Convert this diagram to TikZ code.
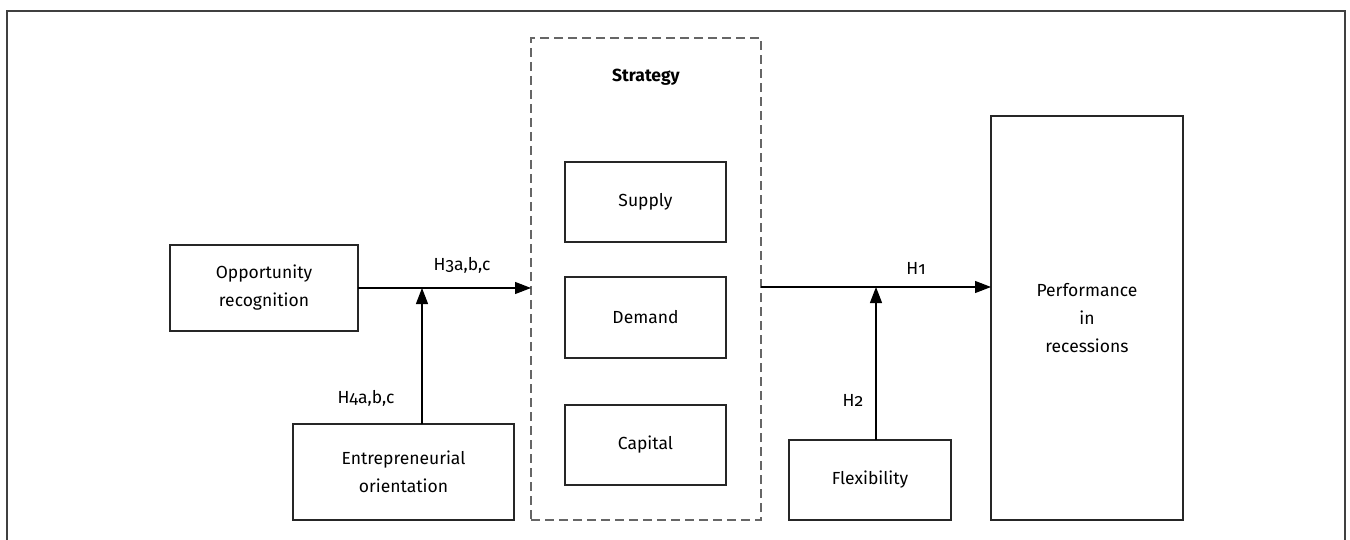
\documentclass[tikz,border=0pt]{standalone}
\usepackage{fontspec}
\setmainfont{Fira Sans}[Numbers=OldStyle]
\usetikzlibrary{arrows.meta}

\begin{document}
\begin{tikzpicture}[x=1pt,y=-1pt,
  txt/.style={font=\fontsize{17.5}{28}\selectfont},
  box/.style={draw=black!85, line width=1.2pt, inner sep=0pt, outer sep=0pt,
    align=center, txt},
  group/.style={draw=black!60, line width=1.5pt, dash pattern=on 9pt off 5pt,
    inner sep=0pt, outer sep=0pt},
  link/.style={draw=black, line width=1.2pt,
    -{Triangle[length=16pt,width=12pt]}},
  lbl/.style={txt, inner sep=0pt}]

\useasboundingbox (0,0) rectangle (1350,540);

% frame open at the bottom
\draw[black!75, line width=1.5pt] (7,540) -- (7,11) -- (1345,11) -- (1345,540);

% strategy group and its three parts
\node[group, minimum width=230pt, minimum height=482pt] (strat) at (646,279) {};
\node[lbl, font=\fontsize{17.5}{28}\selectfont\bfseries] (stratlbl) at (646,77) {Strategy};
\node[box, minimum width=161pt, minimum height=80pt] (supply) at (645.5,202) {Supply};
\node[box, minimum width=161pt, minimum height=81pt] (demand) at (645.5,317.5) {Demand};
\node[box, minimum width=161pt, minimum height=80pt] (capital) at (645.5,445) {Capital};

% antecedents and moderators
\node[box, minimum width=188pt, minimum height=86pt] (opp) at (264,288) {Opportunity\\recognition};
\node[box, minimum width=221pt, minimum height=96pt] (eo) at (403.5,472) {Entrepreneurial\\orientation};
\node[box, minimum width=162pt, minimum height=80pt] (flex) at (870,480) {Flexibility};

% outcome
\node[box, minimum width=192pt, minimum height=404pt] (perf) at (1087,318) {Performance\\in\\recessions};

% junctions where the moderators meet the main paths
\coordinate (j1) at (422,288);
\coordinate (j2) at (876,287);

% main paths
\draw[link] (opp.east) -- (opp.east -| strat.west);
\draw[link] (strat.east |- j2) -- (perf.west |- j2);

% moderating paths
\draw[link] (eo.north -| j1) -- (j1);
\draw[link] (flex.north -| j2) -- (j2);

% hypothesis labels
\node[lbl] (h3) at (462,265) {H3a,b,c};
\node[lbl] (h4) at (366,398) {H4a,b,c};
\node[lbl] (h1) at (916,268) {H1};
\node[lbl] (h2) at (853,400) {H2};
\end{tikzpicture}
\end{document}
